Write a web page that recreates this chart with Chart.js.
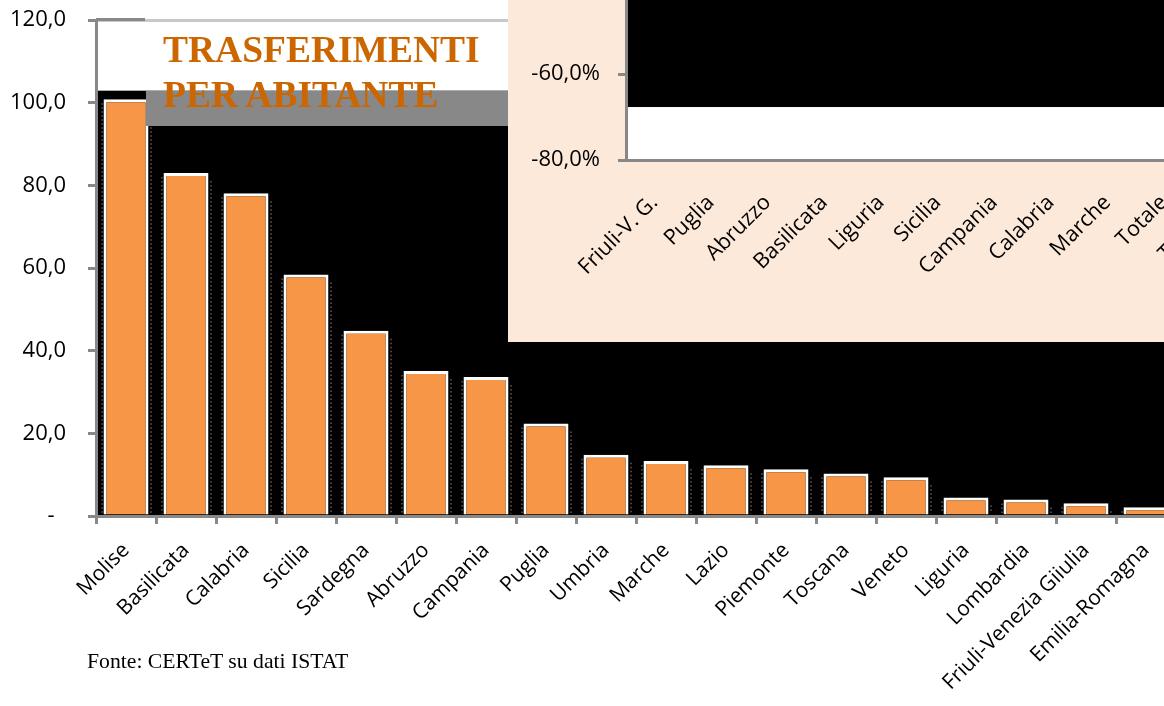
<!DOCTYPE html>
<html>
<head>
<meta charset="utf-8">
<script src="https://cdn.jsdelivr.net/npm/chart.js@4.4.0/dist/chart.umd.min.js"></script>
<style>
html,body{margin:0;padding:0;width:1164px;height:706px;overflow:hidden;background:#fff;position:relative;}
#main{position:absolute;left:0;top:0;}
#band{position:absolute;left:146px;top:91px;width:364px;height:35px;background:#888;}
#topseg{position:absolute;left:96px;top:18px;width:49px;height:3px;background:#888;}
#title{position:absolute;left:163px;top:27px;font-family:"Liberation Serif","Times New Roman",serif;font-weight:bold;font-size:37.5px;line-height:45px;color:#CC6600;white-space:nowrap;}
#inset{position:absolute;left:508px;top:0;width:656px;height:342px;overflow:hidden;background:#FDE9D9;}
#insetCanvas{position:absolute;left:0;top:-40px;}
#source{position:absolute;left:87px;top:650px;font-family:"Liberation Serif","Times New Roman",serif;font-size:21.7px;line-height:22px;color:#000;white-space:nowrap;}
</style>
</head>
<body>
<canvas id="main" width="1200" height="706"></canvas>
<div id="band"></div>
<div id="topseg"></div>
<div id="title">TRASFERIMENTI<br>PER ABITANTE</div>
<div id="inset"><canvas id="insetCanvas" width="760" height="382"></canvas></div>
<div id="source">Fonte: CERTeT su dati ISTAT</div>
<script>
// ---- main chart data ----
const categories = ['Molise','Basilicata','Calabria','Sicilia','Sardegna','Abruzzo','Campania','Puglia','Umbria','Marche','Lazio','Piemonte','Toscana','Veneto','Liguria','Lombardia','Friuli-Venezia Giiulia','Emilia-Romagna'];
const values = [100.8, 83.0, 78.1, 58.4, 44.8, 35.1, 33.6, 22.4, 14.8, 13.3, 12.3, 11.3, 10.3, 9.4, 4.5, 4.0, 3.1, 2.1];
const yTickValues = [0, 20, 40, 60, 80, 100, 120];
const plotSplitLevel = 102.9;   // white above, black below

// ---- inset chart data ----
const insetCategories = ['Friuli-V. G.','Puglia','Abruzzo','Basilicata','Liguria','Sicilia','Campania','Calabria','Marche','Totale','Toscana'];
const insetTickValues = [-80, -60, -40];
const insetSplitLevel = -67.7;  // black above, white below

const FONT = '"Open Sans", "DejaVu Sans", sans-serif';

const bgPlugin = {
  id: 'bgSplit',
  beforeDraw(chart, args, opts) {
    const {ctx, chartArea: a, scales} = chart;
    const yb = scales.y.getPixelForValue(opts.level);
    ctx.save();
    ctx.fillStyle = opts.upper;
    ctx.fillRect(a.left, a.top, a.right - a.left, yb - a.top);
    ctx.fillStyle = opts.lower;
    ctx.fillRect(a.left, yb, a.right - a.left, a.bottom - yb);
    ctx.restore();
  }
};

const dotPlugin = {
  id: 'dotEdges',
  afterDatasetsDraw(chart, args, opts) {
    if (!opts.enabled) return;
    const {ctx} = chart;
    const meta = chart.getDatasetMeta(0);
    ctx.save();
    ctx.strokeStyle = '#5c5c5c';
    ctx.lineWidth = 1.5;
    ctx.setLineDash([1.5, 2.5]);
    meta.data.forEach(bar => {
      const p = bar.getProps(['x', 'y', 'base', 'width'], true);
      const l = p.x - p.width / 2 - 1.5;
      const r = p.x + p.width / 2 + 2.5;
      ctx.beginPath();
      ctx.moveTo(l, p.y + 4); ctx.lineTo(l, p.base - 1);
      ctx.moveTo(r, p.y + 8); ctx.lineTo(r, p.base - 1);
      ctx.stroke();
    });
    ctx.restore();
  }
};

const fmt = v => v === 0 ? '-\u00a0\u00a0' : v.toFixed(1).replace('.', ',');

new Chart(document.getElementById('main'), {
  type: 'bar',
  data: {
    labels: categories,
    datasets: [{
      data: values,
      backgroundColor: '#F79646',
      borderColor: '#FFFFFF',
      borderWidth: 3,
      categoryPercentage: 1,
      barPercentage: 0.75
    }]
  },
  plugins: [bgPlugin, dotPlugin],
  options: {
    responsive: false,
    animation: false,
    layout: {padding: {top: 20, right: 24, left: 0, bottom: 0}},
    plugins: {
      legend: {display: false},
      tooltip: {enabled: false},
      bgSplit: {level: plotSplitLevel, upper: '#FFFFFF', lower: '#000000'},
      dotEdges: {enabled: true}
    },
    scales: {
      x: {
        type: 'category',
        offset: true,
        grid: {offset: true, drawOnChartArea: false, tickColor: '#888', tickLength: 8, tickWidth: 3},
        border: {display: true, color: '#888', width: 3},
        ticks: {
          autoSkip: false, minRotation: 45, maxRotation: 45, padding: 14,
          color: '#000', font: {family: FONT, size: 21}
        },
        afterFit(s) { s.height = 190; s.paddingLeft = 0; s.paddingRight = 0; }
      },
      y: {
        min: 0, max: 120,
        afterBuildTicks(s) { s.ticks = yTickValues.map(v => ({value: v})); },
        grid: {
          drawOnChartArea: true,
          color: c => (c.tick && c.tick.value === 120) ? '#C8C8C8' : 'rgba(0,0,0,0)',
          lineWidth: 3,
          tickColor: '#888', tickLength: 8, tickWidth: 3
        },
        border: {display: true, color: '#888', width: 3},
        ticks: {
          padding: 22, color: '#000', font: {family: FONT, size: 22},
          callback: v => fmt(v)
        },
        afterFit(s) { s.width = 96; s.paddingTop = 0; s.paddingBottom = 0; }
      }
    }
  }
});

new Chart(document.getElementById('insetCanvas'), {
  type: 'bar',
  data: {labels: insetCategories, datasets: []},
  plugins: [bgPlugin],
  options: {
    responsive: false,
    animation: false,
    layout: {padding: {top: 28, right: 19, left: 0, bottom: 0}},
    plugins: {
      legend: {display: false},
      tooltip: {enabled: false},
      bgSplit: {level: insetSplitLevel, upper: '#000000', lower: '#FFFFFF'}
    },
    scales: {
      x: {
        type: 'category',
        offset: true,
        grid: {display: false, drawTicks: false},
        border: {display: true, color: '#888', width: 3},
        ticks: {
          autoSkip: false, minRotation: 45, maxRotation: 45, padding: 30,
          color: '#000', font: {family: FONT, size: 21.5}
        },
        afterFit(s) { s.height = 182; s.paddingLeft = 0; s.paddingRight = 0; }
      },
      y: {
        min: -80, max: -40,
        afterBuildTicks(s) { s.ticks = insetTickValues.map(v => ({value: v})); },
        grid: {drawOnChartArea: false, tickColor: '#888', tickLength: 8, tickWidth: 3},
        border: {display: true, color: '#888', width: 3},
        ticks: {
          padding: 18, color: '#000', font: {family: FONT, size: 22},
          callback: v => v.toFixed(1).replace('.', ',') + '%'
        },
        afterFit(s) { s.width = 118; s.paddingTop = 0; s.paddingBottom = 0; }
      }
    }
  }
});
</script>
</body>
</html>
